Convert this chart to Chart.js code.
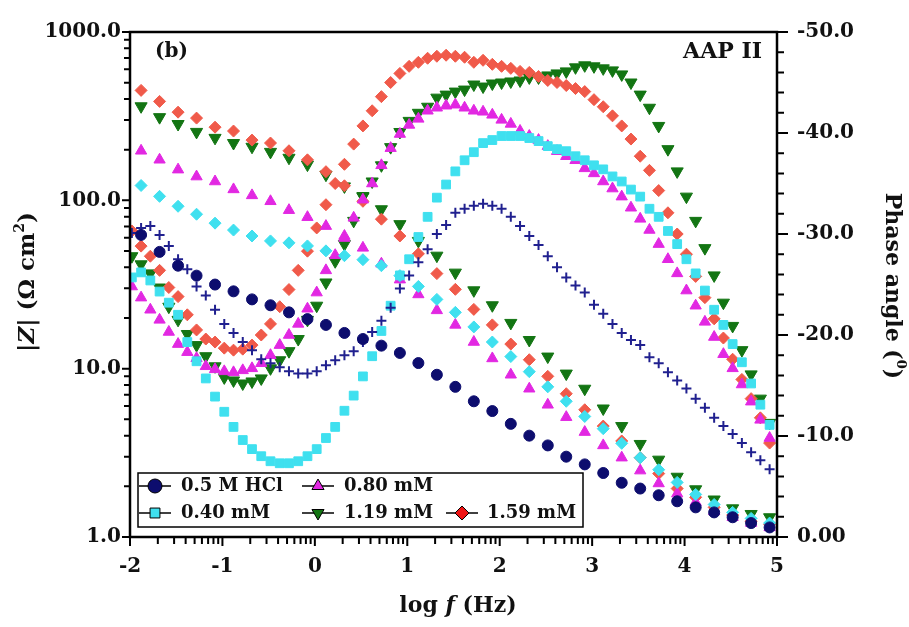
<!DOCTYPE html>
<html>
<head>
<meta charset="utf-8">
<script src="https://cdn.jsdelivr.net/npm/chart.js@4.4.1/dist/chart.umd.min.js"></script>
<style>
  html, body { margin: 0; padding: 0; background: #fff; }
  canvas { display: block; }
</style>
</head>
<body>
<canvas id="bode" width="909" height="627"></canvas>
<script>
/* Bode plot: |Z| (left, log) and phase angle (right) vs log f */

// log f positions of phase points and of |Z| points
const LOGF_PHASE = [-1.98, -1.88, -1.78, -1.68, -1.58, -1.48, -1.38, -1.28, -1.18, -1.08,
  -0.98, -0.88, -0.78, -0.68, -0.58, -0.48, -0.38, -0.28, -0.18, -0.08,
  0.02, 0.12, 0.22, 0.32, 0.42, 0.52, 0.62, 0.72, 0.82, 0.92,
  1.02, 1.12, 1.22, 1.32, 1.42, 1.52, 1.62, 1.72, 1.82, 1.92,
  2.02, 2.12, 2.22, 2.32, 2.42, 2.52, 2.62, 2.72, 2.82, 2.92,
  3.02, 3.12, 3.22, 3.32, 3.42, 3.52, 3.62, 3.72, 3.82, 3.92,
  4.02, 4.12, 4.22, 4.32, 4.42, 4.52, 4.62, 4.72, 4.82, 4.92];
const LOGF_MOD = [-1.88, -1.68, -1.48, -1.28, -1.08, -0.88, -0.68, -0.48, -0.28, -0.08,
  0.12, 0.32, 0.52, 0.72, 0.92, 1.12, 1.32, 1.52, 1.72, 1.92,
  2.12, 2.32, 2.52, 2.72, 2.92, 3.12, 3.32, 3.52, 3.72, 3.92,
  4.12, 4.32, 4.52, 4.72, 4.92];

const LABELS = ['0.5 M HCl', '0.40 mM', '0.80 mM', '1.19 mM', '1.59 mM'];

// |Z| in ohm cm2
const Z_HCL = [62.3, 49.4, 40.9, 35.7, 31.6, 28.8, 25.8, 23.8, 21.6, 19.7, 18.2, 16.3, 15.0, 13.7, 12.4, 10.8, 9.2, 7.8, 6.4, 5.6,
  4.7, 4.0, 3.5, 3.0, 2.7, 2.4, 2.1, 1.94, 1.77, 1.63, 1.50, 1.40, 1.31, 1.21, 1.14];
const Z_040 = [122.5, 105.6, 92.2, 82.7, 73.2, 66.6, 61.4, 57.4, 55.9, 53.6, 50.1, 46.9, 44.4, 40.9, 35.7, 30.8, 25.8, 21.6, 17.7, 14.4,
  11.8, 9.6, 7.8, 6.4, 5.2, 4.4, 3.6, 2.96, 2.51, 2.11, 1.79, 1.56, 1.40, 1.29, 1.21];
const Z_080 = [196.9, 174.2, 152.2, 138.4, 129.4, 116.1, 107.0, 98.7, 87.4, 79.4, 70.3, 61.4, 52.2, 42.0, 33.8, 27.6, 22.2, 18.2, 14.4, 11.5,
  9.2, 7.6, 6.1, 5.15, 4.2, 3.5, 2.96, 2.48, 2.08, 1.81, 1.61, 1.42, 1.31, 1.21, 1.14];
const Z_119 = [362, 312, 284, 255, 235, 219, 208, 194, 179, 163, 142, 121, 106, 88.5, 72.2, 57.4, 46.9, 37.2, 29.2, 23.8,
  18.7, 14.8, 11.8, 9.35, 7.6, 5.8, 4.56, 3.57, 2.88, 2.28, 1.92, 1.67, 1.48, 1.37, 1.31];
const Z_159 = [450, 387, 334, 308, 272, 258, 228, 219, 197, 174, 148, 122, 98.7, 77.3, 61.4, 48.1, 36.7, 29.6, 22.5, 18.2,
  14.0, 11.3, 9.0, 7.1, 5.7, 4.56, 3.72, 2.96, 2.38, 1.94, 1.72, 1.50, 1.35, 1.24, 1.19];

// phase angle in degrees
const P_HCL = [-30.1, -30.6, -30.8, -29.9, -28.8, -27.5, -26.5, -24.8, -23.9, -22.5,
  -21.1, -20.2, -19.3, -18.5, -17.6, -17.2, -16.8, -16.4, -16.2, -16.2,
  -16.4, -17.0, -17.5, -18.0, -18.4, -19.3, -20.3, -21.4, -22.7, -24.6,
  -25.9, -27.2, -28.5, -30.0, -30.9, -32.1, -32.5, -32.8, -33.0, -32.8,
  -32.5, -31.7, -30.8, -29.8, -28.9, -27.8, -26.7, -25.7, -24.9, -24.2,
  -23.0, -22.1, -21.1, -20.2, -19.5, -19.0, -17.8, -17.2, -16.3, -15.5,
  -14.7, -13.7, -12.8, -11.8, -11.0, -10.2, -9.3, -8.4, -7.6, -6.7];
const P_040 = [-25.7, -26.2, -25.4, -24.3, -23.2, -22.0, -19.3, -17.4, -15.7, -13.9,
  -12.4, -10.9, -9.6, -8.7, -8.0, -7.5, -7.3, -7.3, -7.5, -8.0,
  -8.7, -9.8, -10.9, -12.5, -14.0, -15.9, -17.9, -20.4, -22.9, -25.9,
  -27.5, -29.7, -31.7, -33.6, -34.9, -36.2, -37.3, -38.1, -39.0, -39.3,
  -39.7, -39.7, -39.7, -39.5, -39.2, -38.7, -38.4, -38.2, -37.7, -37.3,
  -36.8, -36.4, -35.7, -35.2, -34.4, -33.7, -32.5, -31.7, -30.3, -29.0,
  -27.5, -26.1, -24.4, -22.5, -21.0, -19.1, -17.3, -15.2, -13.1, -11.1];
const P_080 = [-24.8, -23.7, -22.5, -21.5, -20.3, -19.1, -18.3, -17.7, -16.9, -16.6,
  -16.4, -16.3, -16.5, -16.7, -17.2, -18.0, -19.0, -20.0, -21.1, -22.6,
  -24.2, -26.4, -27.9, -29.6, -31.6, -33.4, -35.0, -36.8, -38.5, -39.9,
  -40.8, -41.4, -42.2, -42.5, -42.7, -42.8, -42.5, -42.2, -42.1, -41.8,
  -41.3, -40.9, -40.2, -39.7, -39.3, -38.7, -38.2, -37.7, -37.3, -36.5,
  -36.0, -35.2, -34.5, -33.7, -32.6, -31.5, -30.4, -29.0, -27.5, -26.1,
  -24.4, -22.9, -21.3, -19.8, -18.1, -16.7, -15.1, -13.4, -11.6, -9.8];
const P_119 = [-27.8, -27.0, -26.1, -24.7, -22.8, -21.5, -20.1, -19.0, -17.9, -16.9,
  -15.8, -15.5, -15.2, -15.4, -15.7, -16.7, -17.5, -18.4, -19.6, -21.5,
  -22.9, -25.2, -27.3, -29.0, -31.3, -33.7, -35.2, -36.8, -38.6, -40.1,
  -41.2, -42.0, -42.6, -43.5, -43.8, -44.1, -44.3, -44.8, -44.6, -44.9,
  -45.0, -45.1, -45.2, -45.5, -45.5, -45.7, -45.9, -46.1, -46.5, -46.7,
  -46.6, -46.4, -46.2, -45.8, -45.0, -43.8, -42.5, -40.7, -38.4, -36.2,
  -33.7, -31.3, -28.6, -25.9, -23.2, -20.9, -18.5, -16.1, -13.7, -11.3];
const P_159 = [-30.3, -28.8, -27.8, -26.4, -24.7, -23.8, -22.0, -20.5, -19.6, -19.3,
  -18.7, -18.5, -18.6, -19.0, -20.0, -21.1, -22.8, -24.5, -26.4, -28.3,
  -30.6, -32.9, -35.0, -36.9, -38.9, -40.7, -42.2, -43.6, -45.0, -45.9,
  -46.6, -47.0, -47.4, -47.6, -47.7, -47.6, -47.5, -47.0, -47.2, -46.8,
  -46.6, -46.4, -46.1, -46.0, -45.6, -45.2, -45.0, -44.7, -44.4, -44.1,
  -43.3, -42.6, -41.7, -40.7, -39.4, -37.7, -36.3, -34.3, -32.1, -30.0,
  -28.0, -25.8, -23.7, -21.6, -19.7, -17.6, -15.6, -13.7, -11.8, -9.3];

const FONT = 'DejaVu Serif';
const NAVY = '#0d0d6e', NAVY2 = '#20208f', CYAN = '#3fe0ef', MAGENTA = '#e228e2', GREEN = '#137513', RED = '#f05a4a';

function pts(xs, ys) {
  return xs.map((x, i) => ({ x: x, y: ys[i] }));
}

function series(label, xs, ys, axis, color, style, radius, extra) {
  return Object.assign({
    label: label,
    data: pts(xs, ys),
    yAxisID: axis,
    showLine: false,
    pointStyle: style,
    pointRadius: radius,
    pointBackgroundColor: color,
    pointBorderColor: color,
    pointBorderWidth: 1,
    pointHoverRadius: radius
  }, extra || {});
}

const datasets = [
  series(LABELS[0], LOGF_MOD, Z_HCL, 'yZ', NAVY, 'circle', 5.5),
  series(LABELS[0], LOGF_PHASE, P_HCL, 'yP', NAVY2, 'cross', 5, { pointBorderWidth: 2 }),
  series(LABELS[1], LOGF_MOD, Z_040, 'yZ', CYAN, 'rectRot', 6),
  series(LABELS[1], LOGF_PHASE, P_040, 'yP', CYAN, 'rect', 6.2),
  series(LABELS[2], LOGF_MOD, Z_080, 'yZ', MAGENTA, 'triangle', 6.5),
  series(LABELS[2], LOGF_PHASE, P_080, 'yP', MAGENTA, 'triangle', 6.5),
  series(LABELS[4], LOGF_MOD, Z_159, 'yZ', RED, 'rectRot', 6),
  series(LABELS[4], LOGF_PHASE, P_159, 'yP', RED, 'rectRot', 6),
  series(LABELS[3], LOGF_MOD, Z_119, 'yZ', GREEN, 'triangle', 7, { pointRotation: 180 }),
  series(LABELS[3], LOGF_PHASE, P_119, 'yP', GREEN, 'triangle', 7, { pointRotation: 180 })
];

// draw text made of parts with different styles, centred on (cx, cy)
function richText(ctx, parts, cx, cy, rot) {
  ctx.save();
  ctx.translate(cx, cy);
  ctx.rotate(rot);
  ctx.textBaseline = 'middle';
  ctx.textAlign = 'left';
  let total = 0;
  parts.forEach(p => { ctx.font = p.font; total += ctx.measureText(p.t).width; });
  let x = -total / 2;
  parts.forEach(p => {
    ctx.font = p.font;
    ctx.fillText(p.t, x, p.dy || 0);
    x += ctx.measureText(p.t).width;
  });
  ctx.restore();
}

const decorPlugin = {
  id: 'decor',
  afterDraw(chart) {
    const { ctx, chartArea: a, scales } = chart;
    const sx = scales.x, sz = scales.yZ, sp = scales.yP;
    ctx.save();
    ctx.strokeStyle = '#000';
    ctx.fillStyle = '#111';

    // tick marks
    ctx.lineWidth = 2;
    ctx.beginPath();
    for (let n = -2; n <= 4; n++) {
      for (let m = 1; m <= 9; m++) {
        const px = sx.getPixelForValue(n + Math.log10(m));
        ctx.moveTo(px, a.bottom);
        ctx.lineTo(px, a.bottom + (m === 1 ? 9 : 7));
      }
    }
    const p5 = sx.getPixelForValue(5);
    ctx.moveTo(p5, a.bottom); ctx.lineTo(p5, a.bottom + 9);
    for (let d = 1; d <= 100; d *= 10) {
      for (let m = 1; m <= 10; m++) {
        const py = sz.getPixelForValue(d * m);
        const len = (m === 1 || m === 10) ? 8 : 6;
        ctx.moveTo(a.left, py);
        ctx.lineTo(a.left - len, py);
      }
    }
    for (let v = -50; v <= 0; v += 2) {
      const py = sp.getPixelForValue(v);
      ctx.moveTo(a.right, py);
      ctx.lineTo(a.right + (v % 10 === 0 ? 11 : 7), py);
    }
    ctx.stroke();

    // frame
    ctx.lineWidth = 2.5;
    ctx.strokeRect(a.left, a.top, a.right - a.left, a.bottom - a.top);

    // axis titles
    const b22 = 'bold 22px "' + FONT + '"', bi22 = 'italic bold 22px "' + FONT + '"';
    const b23 = 'bold 23px "' + FONT + '"', bi23 = 'italic bold 23px "' + FONT + '"';
    richText(ctx, [{ t: '|', font: b23 }, { t: 'Z', font: bi23 }, { t: '| (Ω cm', font: b23 },
      { t: '2', font: 'bold 14px "' + FONT + '"', dy: -8 }, { t: ')', font: b23 }], 28, 282, -Math.PI / 2);
    richText(ctx, [{ t: 'Phase angle (', font: b22 }, { t: '0', font: 'bold 13px "' + FONT + '"', dy: -8 },
      { t: ')', font: b22 }], 892, 286, Math.PI / 2);
    richText(ctx, [{ t: 'log ', font: b22 }, { t: 'f', font: bi22 }, { t: ' (Hz)', font: b22 }], 458, 606, 0);

    // panel labels
    ctx.textBaseline = 'middle';
    ctx.textAlign = 'left';
    ctx.font = 'bold 20px "' + FONT + '"';
    ctx.fillText('(b)', 155, 52);
    ctx.textAlign = 'right';
    ctx.font = 'bold 22px "' + FONT + '"';
    ctx.fillText('AAP II', 762, 52);

    // legend
    ctx.lineWidth = 1.5;
    ctx.strokeRect(138, 473, 445, 54);
    const entries = [
      { ds: 0, mx: 155, tx: 181, y: 486 },
      { ds: 4, mx: 318, tx: 344, y: 486 },
      { ds: 2, mx: 155, tx: 181, y: 513, style: 'rect' },
      { ds: 8, mx: 318, tx: 344, y: 513 },
      { ds: 6, mx: 462, tx: 487, y: 513, color: '#ee1515' }
    ];
    ctx.font = 'bold 18px "' + FONT + '"';
    ctx.textAlign = 'left';
    entries.forEach(e => {
      const ds = chart.data.datasets[e.ds];
      ctx.strokeStyle = '#000';
      ctx.lineWidth = 1.5;
      ctx.beginPath();
      ctx.moveTo(e.mx - 16, e.y); ctx.lineTo(e.mx + 16, e.y);
      ctx.stroke();
      ctx.fillStyle = e.color || ds.pointBackgroundColor;
      ctx.lineWidth = 1;
      Chart.helpers.drawPoint(ctx, {
        pointStyle: e.style || ds.pointStyle,
        radius: 7,
        rotation: ds.pointRotation || 0,
        borderWidth: 1
      }, e.mx, e.y);
      ctx.fillStyle = '#111';
      ctx.fillText(ds.label, e.tx, e.y);
    });
    ctx.restore();
  }
};

const tickFont = { family: FONT, weight: 'bold', size: 20 };

new Chart(document.getElementById('bode'), {
  type: 'scatter',
  data: { datasets: datasets },
  options: {
    responsive: false,
    animation: false,
    events: [],
    layout: { padding: { top: 27, left: 0, right: 0, bottom: 0 } },
    plugins: { legend: { display: false }, tooltip: { enabled: false } },
    scales: {
      x: {
        type: 'linear', position: 'bottom', min: -2, max: 5,
        ticks: { stepSize: 1, font: tickFont, color: '#111', padding: 18, callback: v => String(v) },
        grid: { display: false, drawTicks: false },
        border: { display: false },
        afterFit: s => { s.height = 90; }
      },
      yZ: {
        type: 'logarithmic', position: 'left', min: 1, max: 1000,
        afterBuildTicks: s => { s.ticks = [1, 10, 100, 1000].map(v => ({ value: v })); },
        ticks: { font: tickFont, color: '#111', padding: 9, callback: v => Number(v).toFixed(1) },
        grid: { display: false, drawTicks: false },
        border: { display: false },
        afterFit: s => { s.width = 130; }
      },
      yP: {
        type: 'linear', position: 'right', min: -50, max: 0, reverse: true,
        ticks: { stepSize: 10, font: tickFont, color: '#111', padding: 20,
          callback: v => (v === 0 ? '0.00' : Number(v).toFixed(1)) },
        grid: { display: false, drawTicks: false },
        border: { display: false },
        afterFit: s => { s.width = 132; }
      }
    }
  },
  plugins: [decorPlugin]
});
</script>
</body>
</html>
